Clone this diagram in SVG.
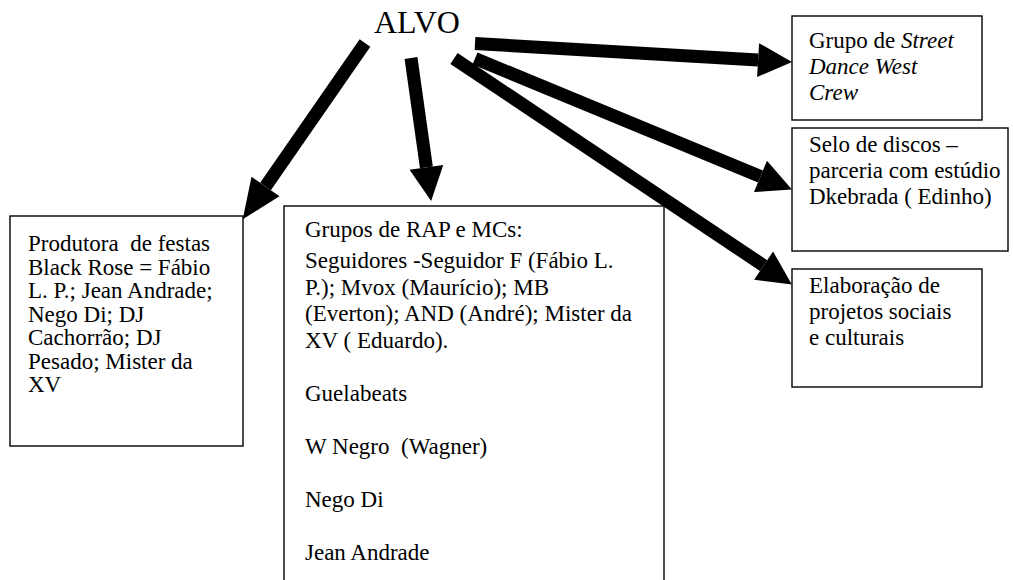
<svg xmlns="http://www.w3.org/2000/svg" width="1013" height="580" viewBox="0 0 1013 580">
<style>
  .box { fill: #fff; stroke: #000; stroke-width: 1.4; }
  .t { font-family: "Liberation Serif", "Times New Roman", serif; font-size: 23px; fill: #000; white-space: pre; }
  .title { font-family: "Liberation Serif", "Times New Roman", serif; font-size: 32px; fill: #000; }
  .arr { stroke: #000; stroke-width: 13; fill: none; }
</style>
<defs>
  <marker id="head" markerUnits="userSpaceOnUse" markerWidth="36" markerHeight="36" viewBox="0 0 36 36" refX="0" refY="18" orient="auto" overflow="visible">
    <path d="M0,1 L34,18 L0,35 Z" fill="#000"/>
  </marker>
  <marker id="headL" markerUnits="userSpaceOnUse" markerWidth="42" markerHeight="36" viewBox="0 0 42 36" refX="0" refY="18" orient="auto" overflow="visible">
    <path d="M0,1 L40,18 L0,35 Z" fill="#000"/>
  </marker>
</defs>

<g id="alvo">
  <text class="title" x="374" y="33">ALVO</text>
</g>

<g id="connectors">
  <line class="arr" x1="365" y1="43" x2="265.5" y2="186.5" marker-end="url(#headL)"/>
  <line class="arr" x1="411" y1="58" x2="426.4" y2="167.3" marker-end="url(#head)"/>
  <line class="arr" x1="475" y1="43.5" x2="758.1" y2="60.1" marker-end="url(#head)"/>
  <line class="arr" x1="475" y1="58.5" x2="760.5" y2="176.4" marker-end="url(#head)"/>
  <line class="arr" x1="454" y1="58.5" x2="763.6" y2="265.6" marker-end="url(#head)"/>
</g>

<g id="produtora">
  <rect class="box" x="10" y="216" width="233" height="230"/>
  <text class="t" xml:space="preserve"><tspan x="28" y="251">Produtora  de festas</tspan><tspan x="28" y="274.5">Black Rose = Fábio</tspan><tspan x="28" y="298">L. P.; Jean Andrade;</tspan><tspan x="28" y="321.5">Nego Di; DJ</tspan><tspan x="28" y="345">Cachorrão; DJ</tspan><tspan x="28" y="368.5">Pesado; Mister da</tspan><tspan x="28" y="392">XV</tspan></text>
</g>

<g id="grupos-rap">
  <rect class="box" x="284" y="206" width="380" height="390"/>
  <text class="t" xml:space="preserve"><tspan x="305" y="237">Grupos de RAP e MCs:</tspan><tspan x="305" y="268">Seguidores -Seguidor F (Fábio L.</tspan><tspan x="305" y="294.5">P.); Mvox (Maurício); MB</tspan><tspan x="305" y="321">(Everton); AND (André); Mister da</tspan><tspan x="305" y="347.5">XV ( Eduardo).</tspan><tspan x="305" y="400.5">Guelabeats</tspan><tspan x="305" y="453.5">W Negro  (Wagner)</tspan><tspan x="305" y="506.5">Nego Di</tspan><tspan x="305" y="559.5">Jean Andrade</tspan></text>
</g>

<g id="street-dance">
  <rect class="box" x="792" y="16" width="190" height="104"/>
  <text class="t" xml:space="preserve"><tspan x="809" y="48">Grupo de <tspan font-style="italic">Street</tspan></tspan><tspan x="809" y="74" font-style="italic">Dance West</tspan><tspan x="809" y="100" font-style="italic">Crew</tspan></text>
</g>

<g id="selo">
  <rect class="box" x="792" y="128" width="216" height="123"/>
  <text class="t" xml:space="preserve"><tspan x="809" y="152">Selo de discos –</tspan><tspan x="809" y="178">parceria com estúdio</tspan><tspan x="809" y="204">Dkebrada ( Edinho)</tspan></text>
</g>

<g id="elaboracao">
  <rect class="box" x="792" y="269" width="190" height="118"/>
  <text class="t" xml:space="preserve"><tspan x="809" y="293">Elaboração de</tspan><tspan x="809" y="319">projetos sociais</tspan><tspan x="809" y="345">e culturais</tspan></text>
</g>
</svg>
